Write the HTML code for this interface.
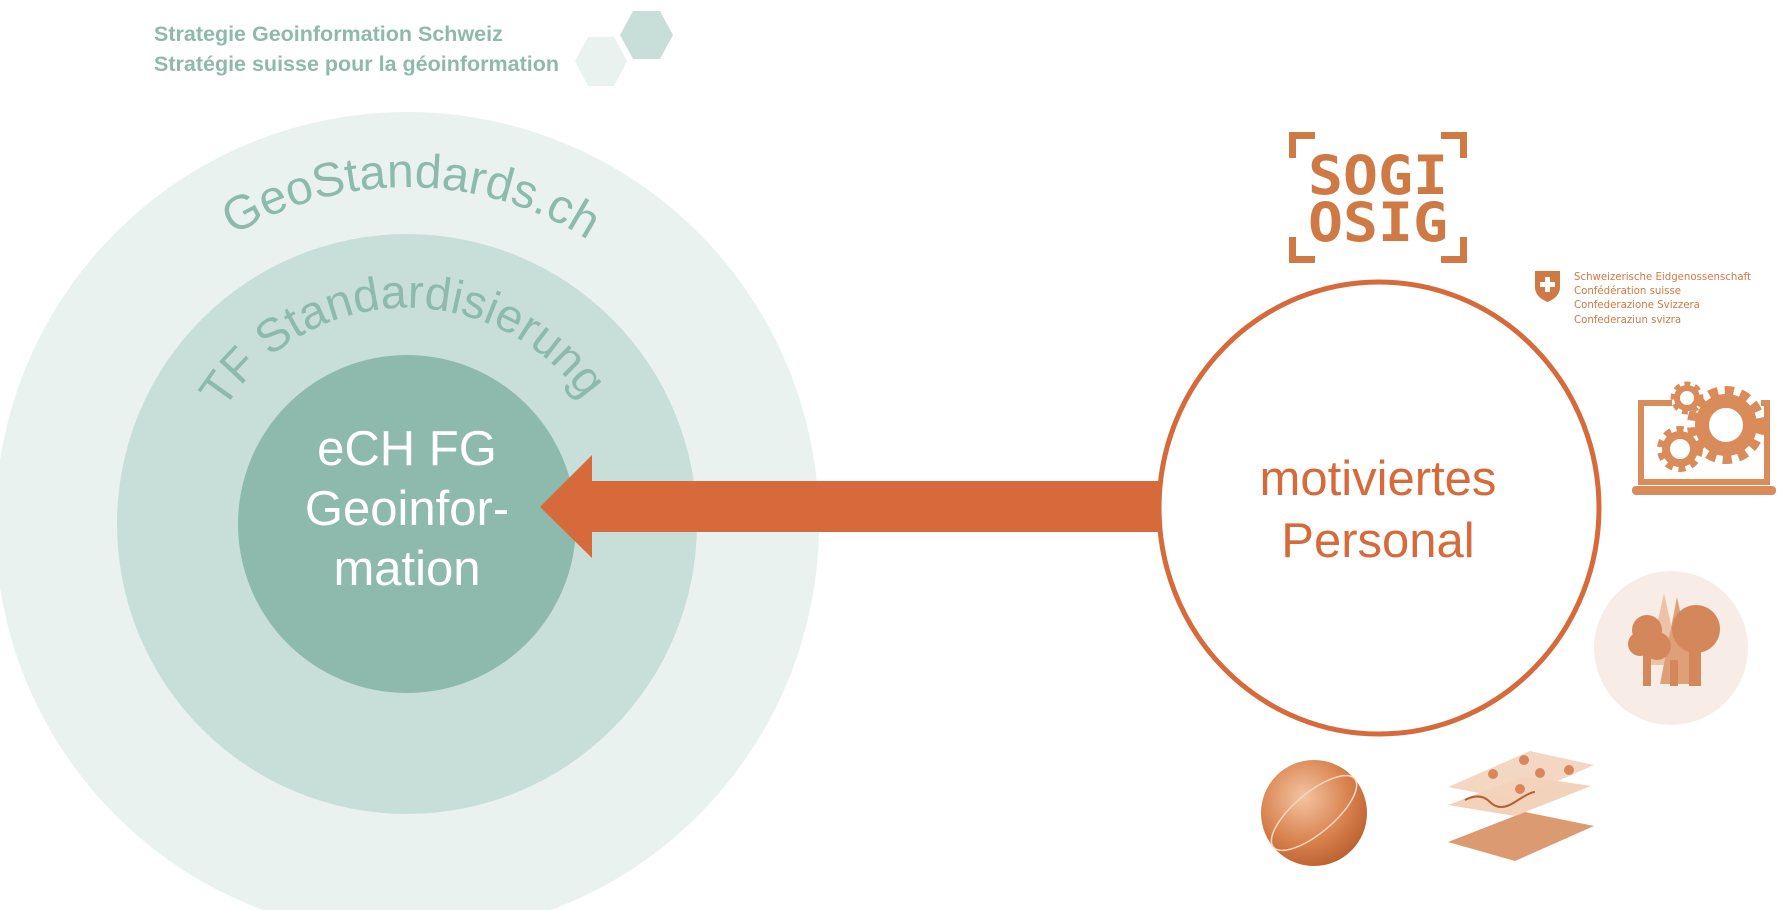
<!DOCTYPE html>
<html><head><meta charset="utf-8"><style>
html,body{margin:0;padding:0;background:#fff;}
svg{display:block;}
</style></head><body>
<svg width="1779" height="910" viewBox="0 0 1779 910" xmlns="http://www.w3.org/2000/svg">
<defs>
<path id="p1" d="M169,286 A336,336 0 0 1 645,286"/>
<path id="p2" d="M195,487 A215,215 0 0 1 619,487"/>
<radialGradient id="gl" cx="0.4" cy="0.35" r="0.7"><stop offset="0" stop-color="#f3c4a3"/><stop offset="0.6" stop-color="#d9834f"/><stop offset="1" stop-color="#b85f2e"/></radialGradient>
</defs>
<!-- header -->
<text x="154" y="41" font-family="Liberation Sans, sans-serif" font-weight="bold" font-size="21.5" fill="#8dbaad">Strategie Geoinformation Schweiz</text>
<text x="154" y="71" font-family="Liberation Sans, sans-serif" font-weight="bold" font-size="21.5" fill="#8dbaad">Stratégie suisse pour la géoinformation</text>
<polygon points="633,11 660,11 673,35 660,59 633,59 620,35" fill="#c8dfd9"/>
<polygon points="588,37 614,37 627,61 614,86 588,86 575,61" fill="#e9f2ef"/>
<!-- circles -->
<circle cx="407" cy="524" r="412" fill="#e9f2ef"/>
<circle cx="407" cy="524" r="290" fill="#c8dfd9"/>
<circle cx="407" cy="524" r="169" fill="#8dbaad"/>
<text font-family="Liberation Sans, sans-serif" font-size="48" fill="#8dbaad"><textPath href="#p1" startOffset="50.8%" text-anchor="middle">GeoStandards.ch</textPath></text>
<text font-family="Liberation Sans, sans-serif" font-size="47" fill="#8dbaad"><textPath href="#p2" startOffset="49%" text-anchor="middle">TF Standardisierung</textPath></text>
<g font-family="Liberation Sans, sans-serif" font-size="49" fill="#fff" text-anchor="middle">
<text x="407" y="465">eCH FG</text>
<text x="407" y="525">Geoinfor-</text>
<text x="407" y="585">mation</text>
</g>
<!-- arrow -->
<polygon points="540,507 592,455 592,481 1160,481 1160,532 592,532 592,558" fill="#d66a3b"/>
<!-- right circle -->
<ellipse cx="1379" cy="508" rx="220" ry="226" fill="#fff" stroke="#d66a3b" stroke-width="5"/>
<g font-family="Liberation Sans, sans-serif" font-size="49" fill="#d66a3b" text-anchor="middle">
<text x="1378" y="495">motiviertes</text>
<text x="1378" y="557">Personal</text>
</g>
<!-- SOGI logo -->
<g fill="#cf7a45">
<path d="M1289,132 h26 v7 h-19 v19 h-7z"/>
<path d="M1467,132 h-26 v7 h19 v19 h7z"/>
<path d="M1289,263 h26 v-7 h-19 v-19 h-7z"/>
<path d="M1467,263 h-26 v-7 h19 v-19 h7z"/>
</g>
<g font-family="DejaVu Sans Mono, monospace" font-weight="bold" font-size="54" fill="#cf7a45" text-anchor="middle">
<text x="1378" y="194" textLength="140" lengthAdjust="spacingAndGlyphs">SOGI</text>
<text x="1378" y="241" textLength="140" lengthAdjust="spacingAndGlyphs">OSIG</text>
</g>
<!-- swiss -->
<path d="M1535,271 h25 v16 q0,10 -12.5,15 q-12.5,-5 -12.5,-15z" fill="#cf7a45"/>
<path d="M1545,277 h5 v5 h5 v5 h-5 v5 h-5 v-5 h-5 v-5 h5z" fill="#fff"/>
<g font-family="DejaVu Sans, sans-serif" font-size="10.2" fill="#cf7a45">
<text x="1574" y="280">Schweizerische Eidgenossenschaft</text>
<text x="1574" y="294">Confédération suisse</text>
<text x="1574" y="308">Confederazione Svizzera</text>
<text x="1574" y="323">Confederaziun svizra</text>
</g>
<!-- laptop -->
<g fill="none" stroke="#d98b5a" stroke-width="6">
<path d="M1672,403 h-31 v79 h126 v-79 h-6"/>
</g>
<rect x="1632" y="486" width="144" height="9" rx="4" fill="#d98b5a"/>
<g stroke="#d98b5a" fill="none">
<circle cx="1726" cy="425" r="30" stroke-width="18" stroke-dasharray="8 6"/>
<circle cx="1726" cy="425" r="24" stroke-width="14"/>
<circle cx="1687" cy="398" r="12" stroke-width="9" stroke-dasharray="5 4"/>
<circle cx="1687" cy="398" r="10" stroke-width="6"/>
<circle cx="1680" cy="449" r="17" stroke-width="12" stroke-dasharray="6 5"/>
<circle cx="1680" cy="449" r="14" stroke-width="8"/>
</g>
<!-- trees -->
<circle cx="1671" cy="648" r="77" fill="#f8ede6"/>
<polygon points="1664,593 1648,665 1680,665" fill="#ecc3a6"/>
<polygon points="1677,597 1660,684 1696,684" fill="#dfa077"/>
<circle cx="1696" cy="629" r="24" fill="#d4875a"/>
<rect x="1689" y="640" width="12" height="46" fill="#d4875a"/>
<circle cx="1647" cy="630" r="15" fill="#d4875a"/><circle cx="1640" cy="644" r="12" fill="#d4875a"/><circle cx="1657" cy="646" r="14" fill="#d4875a"/>
<rect x="1643" y="650" width="8" height="36" fill="#d4875a"/>
<rect x="1670" y="660" width="8" height="26" fill="#d4875a"/>
<!-- globe -->
<circle cx="1314" cy="813" r="53" fill="url(#gl)"/>
<ellipse cx="1314" cy="813" rx="53" ry="20" fill="none" stroke="#f7d5bd" stroke-width="1.5" transform="rotate(-40 1314 813)"/>
<!-- layers -->
<polygon points="1448,842 1525,812 1594,826 1515,861" fill="#dc9a70"/>
<polygon points="1448,805 1525,776 1591,786 1515,816" fill="#f1cdb4" opacity="0.9"/>
<polygon points="1448,787 1530,751 1594,765 1515,800" fill="#f3d3bd" opacity="0.9"/>
<path d="M1465,800 q15,-8 25,2 t25,0 t20,-10" fill="none" stroke="#b5602f" stroke-width="2"/>
<g fill="#d9875a"><circle cx="1524" cy="760" r="5"/><circle cx="1493" cy="774" r="5"/><circle cx="1540" cy="773" r="5"/><circle cx="1569" cy="770" r="5"/><circle cx="1520" cy="789" r="5"/></g>
</svg>
</body></html>
